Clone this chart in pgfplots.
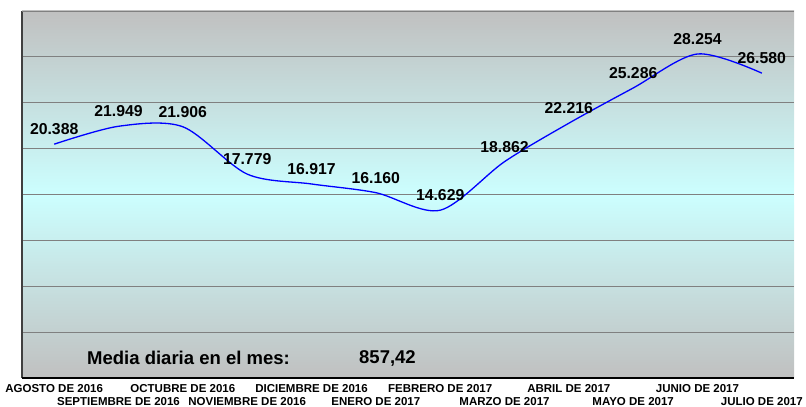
\documentclass[border=0pt]{standalone}
\usepackage{pgfplots}
\pgfplotsset{compat=1.18}
\usepackage{fontspec}
\setmainfont{Liberation Sans}
\definecolor{bggray}{RGB}{192,192,192}
\definecolor{bgcyan}{RGB}{204,255,255}
\definecolor{gridgray}{RGB}{128,128,128}
\definecolor{axisdark}{RGB}{64,64,64}
\begin{document}
\begin{tikzpicture}
\begin{axis}[
  name=main,
  at={(22pt,29pt)}, anchor=south west,
  scale only axis,
  width=772pt, height=367pt,
  xmin=-0.5, xmax=11.5,
  ymin=0, ymax=32000,
  axis line style={draw=none},
  axis background/.style={top color=bggray, bottom color=bggray, middle color=bgcyan},
  ytick={4000,8000,12000,16000,20000,24000,28000},
  yticklabels={},
  ymajorgrids,
  grid style={gridgray, line width=0.9pt},
  major tick length=0pt,
  xtick={0,2,4,6,8,10},
  xticklabels={AGOSTO DE 2016, OCTUBRE DE 2016, DICIEMBRE DE 2016, FEBRERO DE 2017, ABRIL DE 2017, JUNIO DE 2017},
  extra x ticks={1,3,5,7,9,11},
  extra x tick labels={SEPTIEMBRE DE 2016, NOVIEMBRE DE 2016, ENERO DE 2017, MARZO DE 2017, MAYO DE 2017, JULIO DE 2017},
  extra x tick style={grid=none, xticklabel style={yshift=-13.5pt}},
  xticklabel style={font=\fontsize{11.5}{13}\selectfont\bfseries, inner sep=0pt, yshift=-6pt},
  nodes near coords,
  point meta=explicit symbolic,
  every node near coord/.append style={anchor=center, yshift=15pt, font=\fontsize{15.8}{18}\selectfont\bfseries, text=black, inner sep=0pt},
  clip=false,
]
\addplot[blue, line width=1.3pt, smooth, mark=none] table[meta=lab] {
x y lab
0 20388 20.388
1 21949 21.949
2 21906 21.906
3 17779 17.779
4 16917 16.917
5 16160 16.160
6 14629 14.629
7 18862 18.862
8 22216 22.216
9 25286 25.286
10 28254 28.254
11 26580 26.580
};
\end{axis}
\draw[axisdark, line width=1.6pt] (main.south west) -- (main.north west);
\draw[gridgray, line width=0.8pt] (main.north west) -- (main.north east);
\draw[black, line width=1.2pt] (main.south west) -- (main.south east);
\node[font=\fontsize{18.5}{20}\selectfont\bfseries, anchor=center] at (188.5pt,49pt) {Media diaria en el mes:};
\node[font=\fontsize{18.5}{20}\selectfont\bfseries, anchor=west, inner sep=0pt] at (359pt,49pt) {857,42};
\pgfresetboundingbox
\useasboundingbox (0,0) rectangle (806pt,407pt);
\end{tikzpicture}
\end{document}
